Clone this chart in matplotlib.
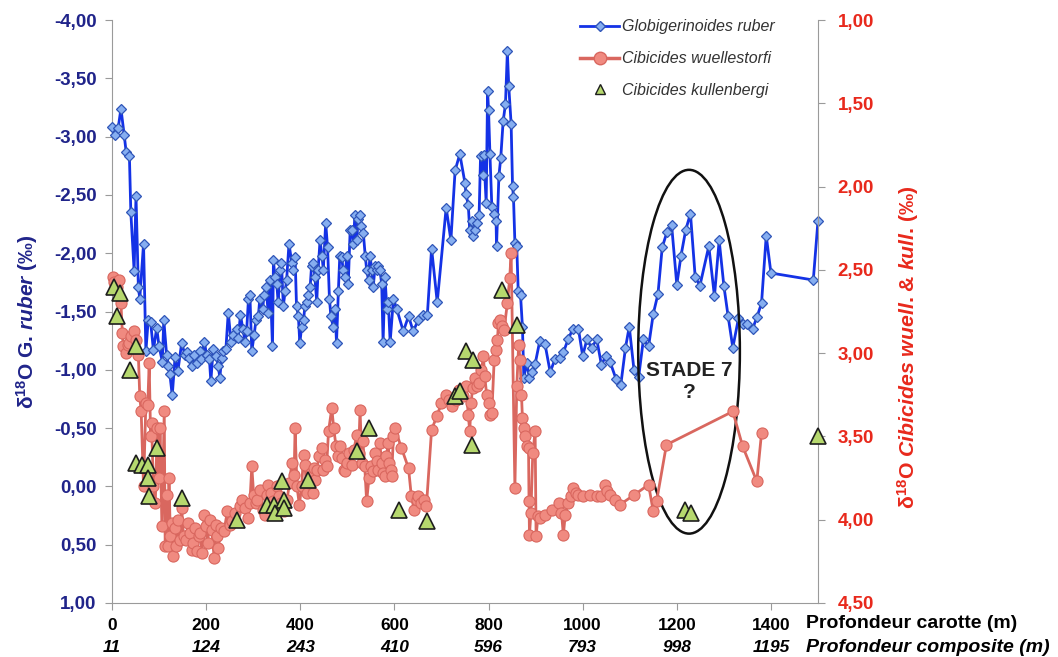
import matplotlib
matplotlib.use('Agg')
import matplotlib.pyplot as plt
import matplotlib.transforms as mtransforms
from matplotlib.patches import Ellipse
from matplotlib.lines import Line2D

# ---------------- data ----------------
ruber_depth = [0, 6, 13, 19, 26, 30, 37, 40, 47, 51, 56, 59, 67, 72, 77, 82, 88, 95, 100, 107,
               110, 116, 120, 123, 128, 134, 140, 148, 155, 159, 164, 169, 174, 180, 186, 190, 196, 201, 207, 210,
               215, 221, 226, 229, 233, 236, 242, 247, 253, 258, 265, 268, 273, 278, 283, 286, 290, 293, 297, 302,
               306, 311, 314, 320, 323, 327, 332, 336, 341, 343, 346, 350, 353, 357, 360, 364, 368, 371, 376, 382,
               385, 389, 392, 396, 399, 403, 407, 410, 414, 417, 421, 424, 428, 431, 435, 438, 442, 446, 449, 454,
               458, 462, 465, 470, 474, 477, 481, 484, 488, 491, 495, 499, 502, 506, 509, 513, 516, 520, 523, 527,
               530, 534, 538, 541, 545, 548, 552, 555, 559, 562, 566, 569, 573, 576, 580, 584, 587, 591, 598, 605,
               619, 630, 640, 651, 660, 670, 679, 691, 710, 720, 729, 739, 750, 752, 757, 760, 764, 768, 771, 776,
               780, 783, 788, 790, 795, 798, 800, 803, 807, 812, 816, 817, 822, 826, 831, 836, 840, 843, 848, 851,
               853, 856, 860, 863, 868, 872, 875, 881, 887, 892, 899, 909, 920, 931, 941, 952, 959, 969, 979, 991,
               1000, 1009, 1019, 1030, 1040, 1049, 1058, 1071, 1081, 1091, 1099, 1109, 1119, 1129, 1140, 1150, 1160, 1169, 1179, 1189,
               1200, 1209, 1219, 1229, 1239, 1249, 1268, 1280, 1290, 1300, 1309, 1319, 1331, 1340, 1350, 1361, 1370, 1380, 1390, 1400,
               1490, 1500]
ruber_d18o = [-3.08, -3.01, -3.07, -3.24, -3.01, -2.87, -2.83, -2.35, -1.85, -2.49, -1.71, -1.61, -2.08, -1.16, -1.43, -1.41, -1.17, -1.36, -1.20, -1.07,
              -1.43, -1.13, -1.03, -0.96, -0.78, -1.11, -0.99, -1.23, -1.13, -1.15, -1.10, -1.03, -1.13, -1.06, -1.16, -1.09, -1.24, -1.13, -1.09, -0.90,
              -1.18, -1.12, -1.03, -0.93, -1.10, -1.16, -1.18, -1.49, -1.24, -1.30, -1.35, -1.27, -1.47, -1.35, -1.24, -1.33, -1.61, -1.64, -1.16, -1.30,
              -1.43, -1.46, -1.61, -1.52, -1.64, -1.71, -1.49, -1.77, -1.20, -1.94, -1.80, -1.74, -1.58, -1.86, -1.92, -1.55, -1.68, -1.77, -2.08, -1.92,
              -1.86, -1.97, -1.55, -1.46, -1.23, -1.37, -1.43, -1.55, -1.58, -1.64, -1.71, -1.89, -1.92, -1.80, -1.58, -1.86, -2.11, -1.98, -1.86, -2.26,
              -2.05, -1.61, -1.46, -1.37, -1.52, -1.23, -1.68, -1.98, -1.97, -1.86, -1.80, -1.98, -1.74, -2.20, -2.20, -2.08, -2.33, -2.11, -2.29, -2.33,
              -2.23, -2.17, -1.98, -1.86, -1.77, -1.98, -1.86, -1.71, -1.89, -1.86, -1.89, -1.86, -1.74, -1.24, -1.80, -1.52, -1.58, -1.24, -1.61, -1.52,
              -1.33, -1.46, -1.33, -1.43, -1.47, -1.47, -2.04, -1.58, -2.39, -2.11, -2.71, -2.85, -2.60, -2.51, -2.41, -2.20, -2.28, -2.15, -2.20, -2.26,
              -2.33, -2.83, -2.67, -2.84, -2.43, -3.39, -3.23, -2.85, -2.40, -2.34, -2.28, -2.06, -2.66, -2.82, -3.13, -3.28, -3.73, -3.43, -3.11, -2.58,
              -2.48, -2.09, -2.06, -1.68, -1.64, -1.37, -0.93, -1.06, -0.93, -0.98, -1.05, -1.25, -1.22, -0.98, -1.09, -1.10, -1.15, -1.26, -1.35, -1.35,
              -1.12, -1.26, -1.19, -1.26, -1.04, -1.12, -1.07, -0.92, -0.87, -1.19, -1.37, -1.00, -0.94, -1.26, -1.20, -1.48, -1.65, -2.05, -2.18, -2.24,
              -1.73, -1.98, -2.20, -2.34, -1.80, -1.72, -2.06, -1.63, -2.11, -1.72, -1.46, -1.19, -1.44, -1.39, -1.39, -1.35, -1.45, -1.57, -2.15, -1.83,
              -1.77, -2.28]

wuell_depth = [2, 5, 10, 14, 19, 22, 24, 29, 33, 36, 41, 47, 52, 56, 59, 62, 67, 72, 76, 79,
               82, 84, 88, 92, 96, 100, 102, 106, 111, 113, 117, 120, 121, 124, 127, 129, 133, 137, 141, 144,
               148, 152, 157, 162, 166, 170, 173, 177, 180, 184, 187, 191, 196, 200, 203, 208, 212, 217, 220, 223,
               226, 231, 238, 245, 250, 254, 262, 271, 277, 283, 288, 293, 297, 301, 305, 308, 314, 320, 325, 329,
               332, 337, 343, 347, 351, 355, 360, 366, 372, 377, 382, 387, 389, 393, 398, 403, 407, 410, 414, 418,
               422, 426, 429, 432, 435, 440, 446, 449, 452, 456, 460, 467, 471, 476, 480, 484, 488, 492, 495, 499,
               503, 509, 514, 520, 524, 527, 531, 533, 537, 541, 546, 551, 555, 559, 562, 566, 569, 573, 576, 580,
               583, 587, 589, 592, 594, 598, 601, 615, 630, 636, 642, 647, 651, 656, 662, 668, 679, 690, 700, 709,
               715, 722, 730, 738, 745, 752, 757, 760, 763, 766, 771, 775, 780, 785, 789, 792, 796, 800, 803, 807,
               812, 816, 819, 821, 824, 828, 833, 840, 845, 848, 856, 860, 864, 867, 870, 872, 875, 877, 881, 885,
               886, 887, 890, 894, 899, 901, 905, 909, 920, 935, 950, 955, 959, 963, 969, 975, 979, 985, 991, 1000,
               1015, 1030, 1040, 1047, 1052, 1058, 1068, 1079, 1110, 1140, 1150, 1157, 1178, 1319, 1340, 1370, 1380]
wuell_d18o = [2.54, 2.57, 2.60, 2.56, 2.70, 2.88, 2.96, 3.00, 2.95, 2.94, 2.90, 2.87, 2.92, 3.01, 3.26, 3.35, 3.80, 3.30, 3.31, 3.06,
              3.50, 3.42, 3.80, 3.90, 3.45, 3.75, 3.45, 4.04, 3.35, 4.16, 3.85, 4.16, 3.75, 4.10, 4.02, 4.22, 4.05, 4.16, 4.00, 4.12,
              3.93, 4.10, 4.12, 4.02, 4.08, 4.18, 4.14, 4.05, 4.19, 4.10, 4.08, 4.20, 3.97, 4.04, 4.14, 4.00, 4.06, 4.23, 4.03, 4.10,
              4.17, 4.05, 4.07, 3.95, 4.03, 4.01, 3.96, 3.92, 3.88, 3.93, 3.99, 3.90, 3.68, 3.85, 3.90, 3.88, 3.82, 3.94, 3.97, 3.85,
              3.79, 3.84, 3.89, 3.92, 3.80, 3.86, 3.90, 3.95, 3.88, 3.78, 3.66, 3.73, 3.45, 3.80, 3.91, 3.80, 3.61, 3.67, 3.84, 3.78,
              3.72, 3.84, 3.69, 3.76, 3.70, 3.62, 3.57, 3.70, 3.64, 3.68, 3.47, 3.33, 3.45, 3.56, 3.62, 3.56, 3.63, 3.70, 3.71, 3.66,
              3.60, 3.67, 3.58, 3.49, 3.60, 3.34, 3.66, 3.53, 3.68, 3.89, 3.75, 3.68, 3.71, 3.60, 3.65, 3.70, 3.54, 3.66, 3.72, 3.74,
              3.62, 3.54, 3.66, 3.70, 3.74, 3.50, 3.45, 3.57, 3.69, 3.86, 3.94, 3.88, 3.86, 3.90, 3.88, 3.92, 3.46, 3.38, 3.30, 3.25,
              3.28, 3.32, 3.28, 3.22, 3.26, 3.20, 3.37, 3.47, 3.30, 3.21, 3.15, 3.20, 3.18, 3.10, 3.02, 3.14, 3.25, 3.30, 3.37, 3.36,
              3.04, 2.98, 2.92, 2.82, 2.80, 2.84, 2.86, 2.70, 2.55, 2.40, 3.81, 3.20, 2.95, 3.04, 3.25, 3.39, 3.45, 3.50, 3.56, 3.57,
              3.89, 4.09, 3.96, 3.60, 3.47, 4.10, 3.98, 3.99, 3.97, 3.94, 3.90, 3.96, 4.09, 3.97, 3.90, 3.86, 3.81, 3.84, 3.85, 3.86,
              3.85, 3.86, 3.86, 3.79, 3.83, 3.85, 3.88, 3.91, 3.85, 3.79, 3.95, 3.89, 3.55, 3.35, 3.56, 3.77, 3.48]

kull_depth = [5, 10, 17, 38, 50, 52, 63, 77, 77, 79, 96, 149, 266, 329, 344, 346, 361, 366, 366, 417,
              521, 547, 610, 670, 729, 739, 752, 764, 766, 828, 861, 1218, 1230, 1500]
kull_d18o = [2.60, 2.78, 2.64, 3.10, 2.96, 3.66, 3.67, 3.67, 3.75, 3.86, 3.57, 3.87, 4.00, 3.91, 3.91, 3.96, 3.77, 3.88, 3.93, 3.76,
             3.59, 3.45, 3.94, 4.01, 3.26, 3.23, 2.99, 3.55, 3.04, 2.62, 2.83, 3.94, 3.96, 3.50]

x_ticks = [0, 200, 400, 600, 800, 1000, 1200, 1400]
composite_labels = ['11', '124', '243', '410', '596', '793', '998', '1195']
left_ticks = [-4.0, -3.5, -3.0, -2.5, -2.0, -1.5, -1.0, -0.5, 0.0, 0.5, 1.0]
left_labels = ['-4,00', '-3,50', '-3,00', '-2,50', '-2,00', '-1,50', '-1,00', '-0,50', '0,00', '0,50', '1,00']
right_ticks = [1.0, 1.5, 2.0, 2.5, 3.0, 3.5, 4.0, 4.5]
right_labels = ['1,00', '1,50', '2,00', '2,50', '3,00', '3,50', '4,00', '4,50']
series_names = ['Globigerinoides ruber', 'Cibicides wuellestorfi', 'Cibicides kullenbergi']

# ---------------- style ----------------
plt.rcParams['font.family'] = ['Liberation Sans', 'DejaVu Sans']
plt.rcParams['mathtext.fontset'] = 'custom'
plt.rcParams['mathtext.rm'] = 'Liberation Sans'
plt.rcParams['mathtext.it'] = 'Liberation Sans:italic:bold'
plt.rcParams['mathtext.bf'] = 'Liberation Sans:bold'

NAVY = '#20248a'
RED = '#e8291c'
BLUE_LINE = '#1432e6'
BLUE_FACE = '#86aef0'
BLUE_EDGE = '#2f55b8'
SALMON_LINE = '#d9675f'
SALMON_FACE = '#f08a80'
GREEN_FACE = '#b6d86e'
GREY = '#9a9a9a'

W, H = 1058, 657
fig = plt.figure(figsize=(W / 100, H / 100), dpi=100)
ax = fig.add_axes([112 / W, 1 - 603 / H, (818 - 112) / W, (603 - 20) / H])
ax2 = ax.twinx()

ax.set_xlim(0, 1500)
ax.set_ylim(1.0, -4.0)
ax2.set_ylim(4.5, 1.0)

for a in (ax, ax2):
    a.spines['top'].set_visible(False)
ax.spines['right'].set_visible(False)
ax2.spines['left'].set_visible(False)
ax2.spines['bottom'].set_visible(False)
ax.spines['left'].set_color(GREY)
ax.spines['bottom'].set_color(GREY)
ax2.spines['right'].set_color(GREY)

ax.plot(ruber_depth, ruber_d18o, color=BLUE_LINE, lw=2, marker='D', ms=5,
        mfc=BLUE_FACE, mec=BLUE_EDGE, mew=0.9, zorder=3, clip_on=False)
ax2.plot(wuell_depth, wuell_d18o, color=SALMON_LINE, lw=2, marker='o', ms=8,
         mfc=SALMON_FACE, mec=SALMON_LINE, mew=0.8, zorder=3, clip_on=False)
ax2.plot(kull_depth, kull_d18o, linestyle='none', marker='^', ms=11,
         mfc=GREEN_FACE, mec='#1e1e1e', mew=1.2, zorder=4, clip_on=False)

# ellipse + annotation
ax.add_patch(Ellipse((1226, -1.155), 216, 3.12, fill=False, ec='#111111', lw=1.8, zorder=5))
ax.text(1226, -0.90, 'STADE 7\n?', ha='center', va='center', fontsize=15,
        fontweight='bold', color='#222222', linespacing=1.15, zorder=6)

# ticks
ax.set_xticks(x_ticks)
ax.set_xticklabels([str(v) for v in x_ticks], fontsize=12.5, fontweight='bold', color='black')
ax.tick_params(axis='x', direction='out', length=5, color=GREY, pad=6)
ax.set_yticks(left_ticks)
ax.set_yticklabels(left_labels, fontsize=13.5, fontweight='bold', color=NAVY)
ax.tick_params(axis='y', direction='out', length=5, color=GREY, pad=6)
ax2.set_yticks(right_ticks)
ax2.set_yticklabels(right_labels, fontsize=13.5, fontweight='bold', color=RED)
ax2.tick_params(axis='y', direction='out', length=5, color=GREY, pad=9)

trans = mtransforms.blended_transform_factory(ax.transData, ax.transAxes)
for xv, lab in zip(x_ticks, composite_labels):
    ax.text(xv, -0.077, lab, transform=trans, ha='center', va='center', fontsize=12.5,
            fontweight='bold', fontstyle='italic', color='black')

fig.text(806 / W, 1 - 624 / H, 'Profondeur carotte (m)', ha='left', va='center',
         fontsize=14, fontweight='bold', color='black')
fig.text(806 / W, 1 - 647 / H, 'Profondeur composite (m)', ha='left', va='center',
         fontsize=14, fontweight='bold', fontstyle='italic', color='black')

fig.text(27 / W, 1 - 322 / H, r'δ$^{\mathbf{18}}$O G. $\mathit{ruber}$ (‰)', rotation=90,
         ha='center', va='center', fontsize=15, fontweight='bold', color=NAVY)
fig.text(908 / W, 1 - 347 / H,
         r'δ$^{\mathbf{18}}$O $\mathit{Cibicides}$ $\mathit{wuell}$. & $\mathit{kull}$. (‰)',
         rotation=90, ha='center', va='center', fontsize=15.3, fontweight='bold', color=RED)

handles = [
    Line2D([], [], color=BLUE_LINE, lw=2, marker='D', ms=5, mfc=BLUE_FACE, mec=BLUE_EDGE),
    Line2D([], [], color=SALMON_LINE, lw=2.5, marker='o', ms=9, mfc=SALMON_FACE, mec=SALMON_LINE),
    Line2D([], [], linestyle='none', marker='^', ms=7, mfc=GREEN_FACE, mec='#1e1e1e'),
]
leg = fig.legend(handles, series_names, loc='upper left', bbox_to_anchor=(574 / W, 1 - 13 / H),
                 frameon=False, prop={'size': 11.5, 'style': 'italic'}, labelspacing=1.05,
                 handlelength=2.4, handletextpad=0.2, borderaxespad=0)
for t in leg.get_texts():
    t.set_color('#333333')

fig.savefig('out.png', dpi=100)
